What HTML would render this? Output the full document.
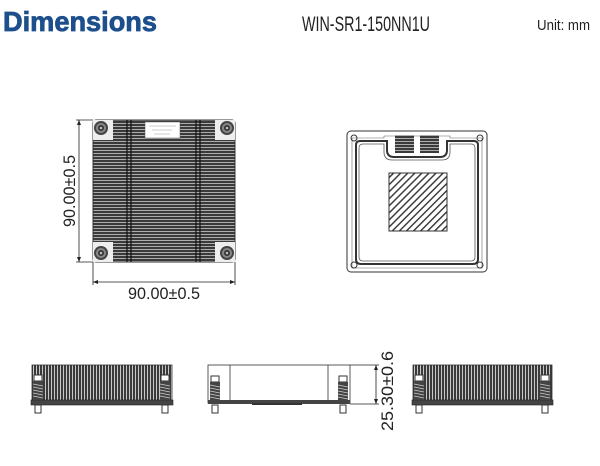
<!DOCTYPE html>
<html><head><meta charset="utf-8"><style>
html,body{margin:0;padding:0;background:#fff;width:600px;height:466px;overflow:hidden}
svg{display:block}
</style></head><body>
<svg width="600" height="466" viewBox="0 0 600 466" xmlns="http://www.w3.org/2000/svg" font-family="Liberation Sans, sans-serif">
<defs>
<pattern id="hf" width="4" height="3" patternUnits="userSpaceOnUse"><rect width="4" height="3" fill="#3a3a3a"/><rect y="0" width="4" height="0.8" fill="#c8c8c8"/></pattern>
<pattern id="vf" width="3" height="4" patternUnits="userSpaceOnUse"><rect width="3" height="4" fill="#3a3a3a"/><rect x="0" width="0.9" height="4" fill="#d8d8d8"/></pattern>
<pattern id="hat" width="5" height="5" patternUnits="userSpaceOnUse" patternTransform="rotate(45)"><rect width="5" height="5" fill="#fff"/><rect width="1.4" height="5" fill="#333"/></pattern>
<g id="scr"><circle r="7" fill="#444"/><circle r="5" fill="#888"/><circle r="3" fill="#333"/><circle r="1.3" fill="#bbb"/></g>
<g id="spring"><rect x="-4" y="-9" width="8" height="6" fill="#fff" stroke="#333" stroke-width="1"/><rect x="-5" y="-3" width="10" height="19" fill="#444"/><path d="M-5 0 L5 2 M-5 3 L5 5 M-5 6 L5 8 M-5 9 L5 11 M-5 12 L5 14" stroke="#ccc" stroke-width="0.8"/></g>
</defs>
<text x="3" y="31" font-size="28" font-weight="bold" fill="#1d4f8c" stroke="#1d4f8c" stroke-width="0.8" textLength="154" lengthAdjust="spacingAndGlyphs">Dimensions</text>
<text x="302" y="31" font-size="21" fill="#222" textLength="128" lengthAdjust="spacingAndGlyphs">WIN-SR1-150NN1U</text>
<text x="537" y="30" font-size="15" fill="#222" textLength="53" lengthAdjust="spacingAndGlyphs">Unit: mm</text>

<rect x="93" y="120" width="142" height="142" rx="3" fill="url(#hf)" stroke="#333"/>
<rect x="93" y="120" width="20" height="20" fill="#eee"/><rect x="215" y="120" width="20" height="20" fill="#eee"/>
<rect x="93" y="242" width="20" height="20" fill="#eee"/><rect x="215" y="242" width="20" height="20" fill="#eee"/>
<use href="#scr" x="101" y="128"/><use href="#scr" x="227" y="128"/><use href="#scr" x="101" y="253"/><use href="#scr" x="227" y="253"/>
<path d="M127 120V262M131 120V262M196 120V262M200 120V262" stroke="#111" stroke-width="1.2"/>
<rect x="145" y="122" width="35" height="16" fill="#fff" stroke="#555" stroke-width="0.5"/>
<path d="M149 126H176M152 130H172M154 134H170" stroke="#999" stroke-width="0.6"/>
<path d="M76 120H93M76 262H93M79 120V262" stroke="#222" stroke-width="0.8"/>
<path d="M79 120l-2 5h4zM79 262l-2-5h4z" fill="#222"/>
<path d="M93 262V285M235 262V285M93 282H235" stroke="#222" stroke-width="0.8"/>
<path d="M93 282l5-2v4zM235 282l-5-2v4z" fill="#222"/>
<text x="164" y="299" font-size="17" fill="#222" text-anchor="middle" textLength="72" lengthAdjust="spacingAndGlyphs">90.00±0.5</text>
<text transform="translate(75,191) rotate(-90)" font-size="17" fill="#222" text-anchor="middle" textLength="72" lengthAdjust="spacingAndGlyphs">90.00±0.5</text>

<rect x="347" y="131" width="140" height="141" rx="4" fill="#fff" stroke="#333" stroke-width="1"/>
<path d="M356 145 Q356 141 360 141 H387 V150 Q387 157 394 157 H440 Q447 157 447 150 V141 H474 Q478 141 478 145 V259 Q478 264 473 264 H361 Q356 264 356 259 Z" fill="none" stroke="#333" stroke-width="2"/>
<path d="M359 148 Q359 144 363 144 H384 V152 Q384 160 392 160 H442 Q450 160 450 152 V144 H471 Q475 144 475 148 V257 Q475 261 471 261 H363 Q359 261 359 257 Z" fill="none" stroke="#555" stroke-width="0.8"/>
<path d="M352 138 H384 V136 H450 V138 H482 V268 H352 Z" fill="none" stroke="#666" stroke-width="0.6"/>
<rect x="395" y="135" width="19" height="18" fill="url(#hf)"/><rect x="420" y="135" width="19" height="18" fill="url(#hf)"/>
<circle cx="354" cy="138" r="3" fill="none" stroke="#333"/><circle cx="480" cy="138" r="3" fill="none" stroke="#333"/>
<circle cx="354" cy="265" r="3" fill="none" stroke="#333"/><circle cx="480" cy="265" r="3" fill="none" stroke="#333"/>
<rect x="389" y="173" width="58" height="58" fill="url(#hat)" stroke="#333"/>

<rect x="32" y="365" width="140" height="36" fill="url(#vf)" stroke="#333" stroke-width="0.8"/>
<rect x="31" y="400" width="142" height="5" fill="#444" stroke="#222" stroke-width="0.6"/>
<use href="#spring" x="38" y="384"/><use href="#spring" x="165" y="384"/>
<rect x="35" y="405" width="6" height="8" fill="#fff" stroke="#333"/><rect x="162" y="405" width="6" height="8" fill="#fff" stroke="#333"/>

<rect x="413" y="365" width="139" height="36" fill="url(#vf)" stroke="#333" stroke-width="0.8"/>
<rect x="412" y="400" width="141" height="5" fill="#444" stroke="#222" stroke-width="0.6"/>
<use href="#spring" x="419" y="384"/><use href="#spring" x="545" y="384"/>
<rect x="416" y="405" width="6" height="8" fill="#fff" stroke="#333"/><rect x="542" y="405" width="6" height="8" fill="#fff" stroke="#333"/>

<rect x="208" y="365" width="142" height="38" fill="#fff" stroke="#333" stroke-width="0.8"/>
<path d="M230 365V403M328 365V403" stroke="#333" stroke-width="0.8"/>
<rect x="208" y="400" width="142" height="4" fill="#444"/>
<rect x="252" y="403" width="50" height="2" fill="#333"/>
<use href="#spring" x="215" y="385"/><use href="#spring" x="343" y="385"/>
<rect x="212" y="405" width="6" height="8" fill="#fff" stroke="#333"/><rect x="340" y="405" width="6" height="8" fill="#fff" stroke="#333"/>
<path d="M350 365H379M350 404H379M376 365V404" stroke="#222" stroke-width="0.8"/>
<path d="M376 365l-2 5h4zM376 404l-2-5h4z" fill="#222"/>
<text transform="translate(393,391) rotate(-90)" font-size="17" fill="#222" text-anchor="middle" textLength="80" lengthAdjust="spacingAndGlyphs">25.30±0.6</text>
</svg>
</body></html>
